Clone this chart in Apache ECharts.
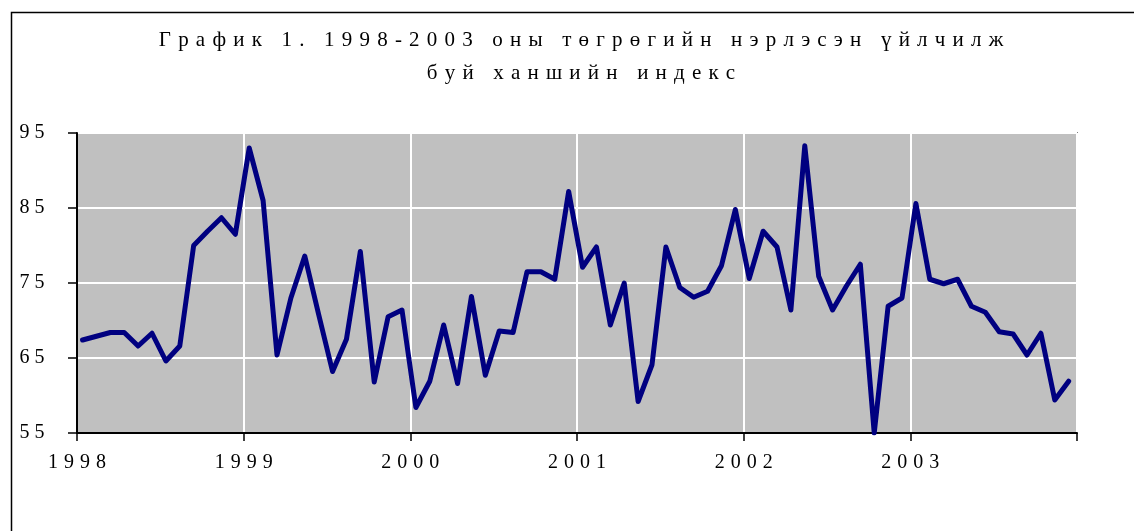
<!DOCTYPE html>
<html>
<head>
<meta charset="utf-8">
<script src="https://cdn.jsdelivr.net/npm/echarts@6/dist/echarts.min.js"></script>
<style>
  html, body { margin: 0; padding: 0; background: #fff; }
  #chart { width: 1134px; height: 531px; }
</style>
</head>
<body>
<div id="chart"></div>
<script>
// сарын индекс, 1998.01 - 2003.12
var titleText = 'График 1. 1998-2003 оны төгрөгийн нэрлэсэн үйлчилж\nбуй ханшийн индекс';
var years = [1998, 1999, 2000, 2001, 2002, 2003];
var yTicks = [55, 65, 75, 85, 95];
var index1998 = [67.4, 67.9, 68.4, 68.4, 66.6, 68.3, 64.6, 66.6, 80.0, 81.9, 83.7, 81.5];
var index1999 = [93.0, 86.0, 65.4, 73.0, 78.6, 70.8, 63.2, 67.5, 79.2, 61.8, 70.5, 71.4];
var index2000 = [58.4, 61.9, 69.4, 61.6, 73.2, 62.7, 68.6, 68.4, 76.5, 76.5, 75.5, 87.2];
var index2001 = [77.1, 79.8, 69.4, 75.0, 59.2, 64.1, 79.8, 74.4, 73.1, 73.9, 77.3, 84.8];
var index2002 = [75.6, 81.9, 79.8, 71.4, 93.3, 75.9, 71.4, 74.6, 77.5, 55.0, 71.9, 73.0];
var index2003 = [85.6, 75.5, 74.9, 75.5, 71.9, 71.1, 68.5, 68.2, 65.4, 68.3, 59.4, 61.9];

var values = [].concat(index1998, index1999, index2000, index2001, index2002, index2003);
var points = [];
for (var i = 0; i < values.length; i++) {
  points.push([i + 0.4, values[i]]);  // сарын дунд
}

// үсэг бүрийг зайтай харуулах (rich text padding)
function spaced(str) {
  return str.split('\n').map(function (line) {
    return line.split('').map(function (ch) { return '{c|' + ch + '}'; }).join('');
  }).join('\n');
}

var myChart = echarts.init(document.getElementById('chart'));
var serif = '"Liberation Serif", "DejaVu Serif", serif';

var option = {
  backgroundColor: '#ffffff',
  animation: false,
  title: {
    text: spaced(titleText),
    left: 576,
    top: 19,
    textAlign: 'center',
    textStyle: {
      fontFamily: serif,
      fontWeight: 'normal',
      fontSize: 21,
      lineHeight: 33,
      color: '#000',
      rich: {
        c: { fontFamily: serif, fontSize: 21, lineHeight: 33, color: '#000', padding: [0, 3.6, 0, 3.6] }
      }
    }
  },
  graphic: [{
    type: 'rect',
    left: 9,
    top: 10,
    shape: { width: 1140, height: 540 },
    style: { fill: 'none', stroke: '#000', lineWidth: 1.5 },
    silent: true
  }],
  grid: {
    left: 77,
    right: 57,
    top: 133,
    bottom: 98,
    show: true,
    backgroundColor: '#c0c0c0',
    borderColor: '#808080',
    borderWidth: 2
  },
  xAxis: {
    type: 'value',
    min: 0,
    max: 72,
    interval: 12,
    axisLine: { show: true, lineStyle: { color: '#000', width: 2 } },
    axisTick: { show: true, length: 8, lineStyle: { color: '#000', width: 1.5 } },
    splitLine: { show: true, lineStyle: { color: '#ffffff', width: 2 } },
    axisLabel: {
      margin: 20,
      fontFamily: serif,
      fontSize: 20,
      color: '#000',
      rich: {
        c: { fontFamily: serif, fontSize: 20, color: '#000', padding: [0, 3, 0, 3] }
      },
      formatter: function (v) {
        var k = Math.round(v / 12);
        return k < years.length ? spaced(String(years[k])) : '';
      }
    }
  },
  yAxis: {
    type: 'value',
    min: yTicks[0],
    max: yTicks[yTicks.length - 1],
    interval: 10,
    axisLine: { show: true, lineStyle: { color: '#000', width: 2 } },
    axisTick: { show: true, length: 9, lineStyle: { color: '#000', width: 1.5 } },
    splitLine: { show: true, lineStyle: { color: '#ffffff', width: 2 } },
    axisLabel: {
      margin: 60,
      align: 'left',
      fontFamily: serif,
      fontSize: 20,
      color: '#000',
      rich: {
        c: { fontFamily: serif, fontSize: 20, color: '#000', padding: [0, 2.5, 0, 2.5] }
      },
      formatter: function (v) { return spaced(String(v)); }
    }
  },
  series: [{
    type: 'line',
    data: points,
    showSymbol: false,
    smooth: false,
    clip: true,
    lineStyle: { color: '#000080', width: 5, join: 'round', cap: 'round' }
  }]
};

myChart.setOption(option);
</script>
</body>
</html>
